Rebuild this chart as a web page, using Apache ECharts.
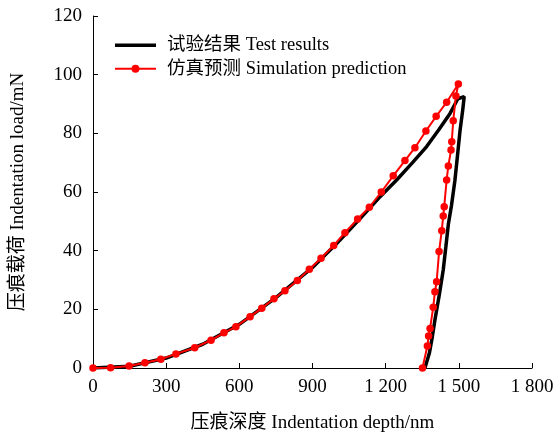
<!DOCTYPE html>
<html>
<head>
<meta charset="utf-8">
<script src="https://cdn.jsdelivr.net/npm/echarts@6/dist/echarts.min.js"></script>
<style>
  html, body { margin: 0; padding: 0; background: #fff; }
  #chart { width: 554px; height: 436px; }
</style>
</head>
<body>
<div id="chart"></div>
<script>
// 试验结果 (depth nm, load mN)
var testLoading = [
  [0, 0], [150, 0.6], [300, 3.4], [450, 8.1], [600, 14.9], [750, 24], [900, 34.3],
  [1000, 42.5], [1098, 51.2], [1170, 57.8], [1245, 64.1], [1310, 70.0], [1368, 75.5],
  [1420, 81.5], [1464, 86.8], [1496, 91.8], [1522, 92.5]
];
var testUnloading = [
  [1516, 88], [1505, 81], [1494, 72], [1484, 64], [1470, 55.5], [1457, 49],
  [1447, 41.5], [1436, 33.4], [1420, 25], [1402, 16.4], [1390, 10], [1379, 5], [1361, 0]
];
// 仿真预测
var simLoading = [
  [0, 0], [72, 0.1], [148, 0.7], [213, 1.8], [278, 3.0], [340, 4.8], [417, 6.9],
  [484, 9.5], [537, 12.0], [586, 14.1], [644, 17.5], [692, 20.4], [742, 23.6],
  [787, 26.3], [838, 29.8], [887, 33.7], [935, 37.4], [987, 41.8], [1033, 46.1],
  [1085, 50.8], [1133, 54.8], [1182, 60.0], [1231, 65.5], [1279, 70.7], [1320, 75.1],
  [1365, 80.8], [1407, 85.8], [1450, 90.6], [1498, 96.8]
];
var simUnloading = [
  [1488, 92.7], [1477, 84.3], [1471, 77.1], [1468, 74.3], [1457, 68.9], [1450, 64.1],
  [1440, 55.0], [1436, 51.8], [1430, 46.8], [1419, 39.7], [1409, 29.4], [1402, 26.0],
  [1395, 20.7], [1382, 13.5], [1376, 10.9], [1371, 7.5], [1351, 0]
];

var font = "'Liberation Serif', 'Times New Roman', 'Noto Sans CJK SC', serif";
var chart = echarts.init(document.getElementById('chart'));

chart.setOption({
  animation: false,
  textStyle: { fontFamily: font, color: '#000' },
  grid: { left: 93, right: 22, top: 16, bottom: 68, containLabel: false, outerBoundsMode: 'none' },
  legend: {
    orient: 'vertical',
    left: 114,
    top: 36,
    padding: 0,
    itemWidth: 41,
    itemHeight: 10,
    itemGap: 5,
    textStyle: { fontFamily: font, fontSize: 18.5, color: '#000', padding: [0, 0, 0, 6] },
    data: [
      { name: '试验结果 Test results', icon: 'path://M0,0 H41 V3.5 H0 Z' },
      '仿真预测 Simulation prediction'
    ]
  },
  xAxis: {
    type: 'value',
    min: 0, max: 1800, interval: 300,
    name: '压痕深度 Indentation depth/nm',
    nameLocation: 'middle',
    nameGap: 46,
    nameTextStyle: { fontFamily: font, fontSize: 19, color: '#000' },
    axisLine: { lineStyle: { color: '#000', width: 1 } },
    axisTick: { inside: true, length: 5, lineStyle: { color: '#000' } },
    axisLabel: {
      fontFamily: font, fontSize: 19, color: '#000', margin: 10,
      formatter: function (v) { return v >= 1000 ? Math.floor(v / 1000) + ' ' + String(v % 1000).padStart(3, '0') : String(v); }
    },
    splitLine: { show: false }
  },
  yAxis: {
    type: 'value',
    min: 0, max: 120, interval: 20,
    name: '压痕载荷 Indentation load/mN',
    nameLocation: 'middle',
    nameGap: 65,
    nameTextStyle: { fontFamily: font, fontSize: 19, color: '#000' },
    axisLine: { show: true, lineStyle: { color: '#000', width: 1 } },
    axisTick: { show: true, inside: true, length: 5, lineStyle: { color: '#000' } },
    axisLabel: { fontFamily: font, fontSize: 19, color: '#000', margin: 11 },
    splitLine: { show: false }
  },
  series: [
    {
      name: '试验结果 Test results',
      type: 'line',
      data: testLoading.concat(testUnloading),
      symbol: 'none',
      lineStyle: { color: '#000', width: 3.5 },
      itemStyle: { color: '#000' },
      z: 2
    },
    {
      name: '仿真预测 Simulation prediction',
      type: 'line',
      data: simLoading.concat(simUnloading),
      symbol: 'circle',
      symbolSize: 7.5,
      lineStyle: { color: '#ff0000', width: 2 },
      itemStyle: { color: '#ff0000' },
      z: 3
    }
  ]
});
</script>
</body>
</html>
